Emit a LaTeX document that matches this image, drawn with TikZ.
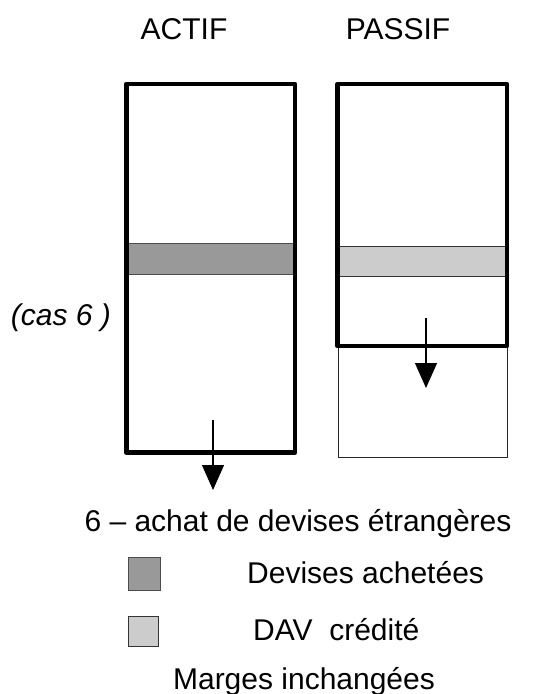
\documentclass[tikz,border=0pt]{standalone}
\usepackage{fontspec}
\setmainfont{Liberation Sans}
\usetikzlibrary{arrows.meta}
\begin{document}
\begin{tikzpicture}[x=1pt,y=-1pt,
    bilan/.style={line width=4.7pt,line join=round},
    ajout/.style={draw=black!85,line width=1pt},
    devise/.style={fill=black!40,draw=black!70,line width=0.8pt},
    davbox/.style={fill=black!20,draw=black!80,line width=0.8pt},
    flux/.style={line width=1.3pt,-{Triangle[width=22pt,length=25pt]}},
    txt/.style={font=\fontsize{30}{36}\selectfont,inner sep=0pt,anchor=base}]
  \useasboundingbox (0,0) rectangle (535,694);
  \node[txt] (actif) at (184,39) {ACTIF};
  \node[txt] (passif) at (398,39) {PASSIF};
  \node[txt,font=\fontsize{30}{36}\selectfont\itshape] (cas) at (61,325) {(cas 6 )};
  % actif
  \draw[devise] (127,243) rectangle (294,274);
  \draw[bilan] (126.3,84) rectangle (295,452.5);
  \coordinate (a1) at (213,420);
  \coordinate (a2) at (213,490);
  \draw[flux] (a1) -- (a2);
  % passif
  \draw[ajout] (338.3,346) rectangle (507.3,457.5);
  \draw[davbox] (337,246.7) rectangle (505,276.7);
  \draw[bilan] (337.7,84) rectangle (507,346);
  \coordinate (p1) at (426,318);
  \coordinate (p2) at (426,388);
  \draw[flux] (p1) -- (p2);
  % legende
  \node[txt] (titre) at (298,531) {6 -- achat de devises étrangères};
  \draw[devise] (128,557) rectangle (160,590);
  \node[txt,anchor=base west] (dev) at (247,583) {Devises achetées};
  \draw[davbox] (128,616) rectangle (158,646);
  \node[txt,anchor=base west] (dav) at (253,640) {DAV\ \ crédité};
  \node[txt] (marges) at (304,689) {Marges inchangées};
\end{tikzpicture}
\end{document}
